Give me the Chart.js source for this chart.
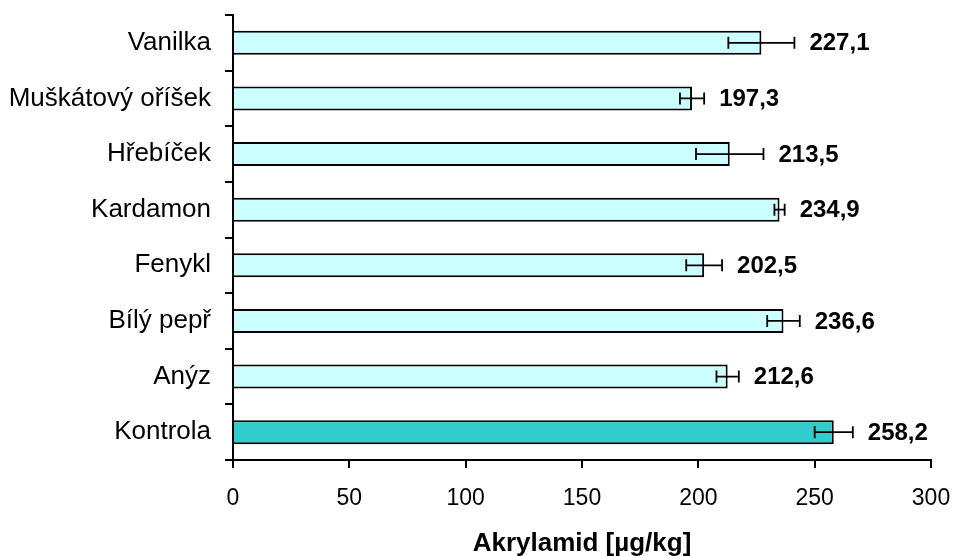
<!DOCTYPE html>
<html>
<head>
<meta charset="utf-8">
<script src="https://cdn.jsdelivr.net/npm/chart.js@4.4.1/dist/chart.umd.min.js"></script>
<style>
  html, body { margin: 0; padding: 0; background: #ffffff; }
  #wrap { width: 954px; height: 556px; }
</style>
</head>
<body>
<div id="wrap"><canvas id="c" width="954" height="556"></canvas></div>
<script>
const categories = ['Vanilka', 'Muškátový oříšek', 'Hřebíček', 'Kardamon', 'Fenykl', 'Bílý pepř', 'Anýz', 'Kontrola'];
const values = [227.1, 197.3, 213.5, 234.9, 202.5, 236.6, 212.6, 258.2];
const errors = [14.2, 5.2, 14.5, 2.2, 7.7, 7.0, 4.8, 8.2];
const xTickValues = [0, 50, 100, 150, 200, 250, 300];
const axisTitle = 'Akrylamid [µg/kg]';
const controlCategory = 'Kontrola';

const FONT = '"Liberation Sans", Arial, Helvetica, sans-serif';

const errorAndLabelPlugin = {
  id: 'errorAndLabel',
  afterDatasetsDraw(chart) {
    const ctx = chart.ctx;
    const xs = chart.scales.x;
    const meta = chart.getDatasetMeta(0);
    meta.data.forEach((bar, i) => {
      const y = bar.y;
      const v = values[i], e = errors[i];
      const x1 = xs.getPixelForValue(v - e);
      const x2 = xs.getPixelForValue(v + e);
      ctx.save();
      ctx.strokeStyle = '#000000';
      ctx.lineWidth = 1.8;
      ctx.beginPath();
      ctx.moveTo(x1, y); ctx.lineTo(x2, y);
      ctx.moveTo(x1, y - 6); ctx.lineTo(x1, y + 6);
      ctx.moveTo(x2, y - 6); ctx.lineTo(x2, y + 6);
      ctx.stroke();
      ctx.fillStyle = '#000000';
      ctx.font = 'bold 24px ' + FONT;
      ctx.textAlign = 'left';
      ctx.textBaseline = 'middle';
      ctx.fillText(v.toFixed(1).replace('.', ','), x2 + 15, y + 1);
      ctx.restore();
    });
  }
};

new Chart(document.getElementById('c'), {
  type: 'bar',
  data: {
    labels: categories,
    datasets: [{
      data: values,
      backgroundColor: categories.map(c => c === controlCategory ? '#33CCCC' : '#CCFFFF'),
      borderColor: '#000000',
      borderWidth: 2,
      borderSkipped: 'start',
      barPercentage: 0.432,
      categoryPercentage: 1.0
    }]
  },
  options: {
    indexAxis: 'y',
    responsive: false,
    devicePixelRatio: 1,
    animation: false,
    layout: { padding: { top: 15, right: 23, bottom: 0, left: 0 } },
    plugins: { legend: { display: false }, tooltip: { enabled: false } },
    scales: {
      x: {
        type: 'linear',
        min: 0, max: 300,
        afterBuildTicks(scale) { scale.ticks = xTickValues.map(v => ({ value: v })); },
        afterFit(scale) { scale.height = 96; scale.paddingLeft = 0; scale.paddingRight = 0; },
        ticks: { color: '#000000', font: { family: FONT, size: 23 }, padding: 17, maxRotation: 0 },
        grid: { drawOnChartArea: false, drawTicks: true, tickLength: 8, color: '#000000', lineWidth: 2 },
        border: { display: true, color: '#000000', width: 2 },
        title: { display: true, text: axisTitle, color: '#000000', font: { family: FONT, size: 26, weight: 'bold', lineHeight: 0.9 }, padding: { top: 0, bottom: 0 } }
      },
      y: {
        type: 'category',
        offset: true,
        z: 1,
        afterFit(scale) { scale.width = 233; scale.paddingTop = 0; scale.paddingBottom = 0; },
        ticks: { color: '#000000', font: { family: FONT, size: 26 }, padding: 14, autoSkip: false },
        grid: { offset: true, drawOnChartArea: false, drawTicks: true, tickLength: 8, color: '#000000', lineWidth: 2 },
        border: { display: true, color: '#000000', width: 2 }
      }
    }
  },
  plugins: [errorAndLabelPlugin]
});
</script>
</body>
</html>
